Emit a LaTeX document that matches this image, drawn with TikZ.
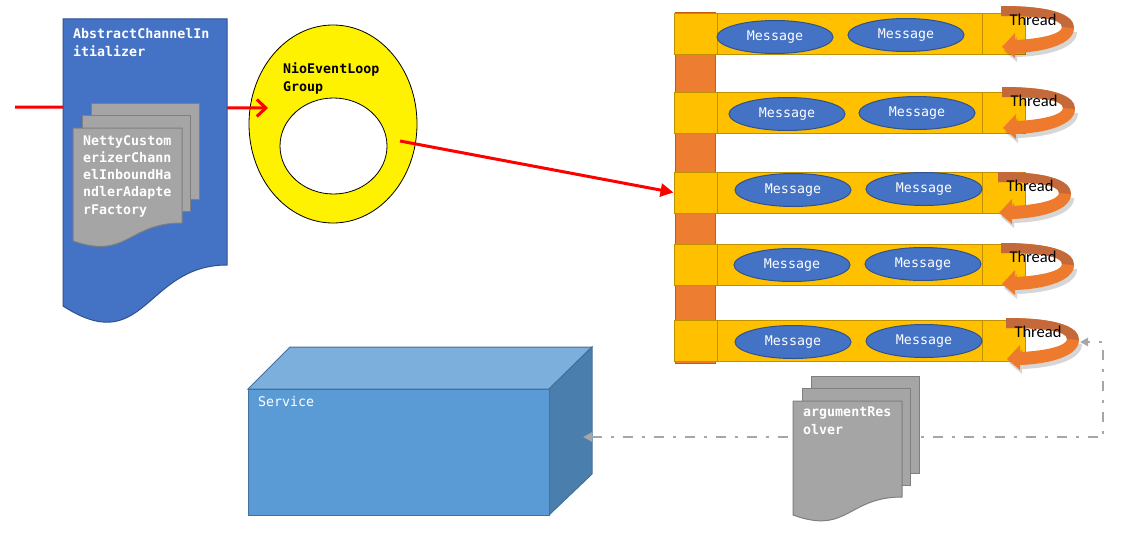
\documentclass[tikz,border=0pt]{standalone}
\usepackage{fontspec}
\newfontfamily\monof{DejaVu Sans Mono}
\newfontfamily\thrf{Carlito}
\usetikzlibrary{arrows.meta,shapes.geometric}
\definecolor{docblue}{HTML}{4472C4}
\definecolor{docblueline}{HTML}{2F528F}
\definecolor{gfill}{HTML}{A5A5A5}
\definecolor{gline}{HTML}{7F7F7F}
\definecolor{qfill}{HTML}{FFC000}
\definecolor{qline}{HTML}{BF9000}
\definecolor{obar}{HTML}{ED7D31}
\definecolor{obarline}{HTML}{C55A11}
\definecolor{thrdark}{HTML}{C4693A}
\definecolor{thrlight}{HTML}{EE7A2E}
\definecolor{svfront}{HTML}{5B9BD5}
\definecolor{svtop}{HTML}{7DAFDD}
\definecolor{svside}{HTML}{4A7EAD}
\definecolor{svline}{HTML}{41719C}
\definecolor{conngray}{HTML}{A6A6A6}
\begin{document}
\begin{tikzpicture}[x=1pt,y=-1pt,
  wtitle/.style={inner sep=0pt, text=white, align=left,
    font=\monof\bfseries\fontsize{13.3}{18}\selectfont},
  btitle/.style={wtitle, text=black},
  wplain/.style={inner sep=0pt, text=white, align=left,
    font=\monof\fontsize{13.3}{18}\selectfont},
  docblueshape/.style={draw=docblueline, fill=docblue, line width=1pt},
  docgray/.style={draw=gline, fill=gfill, line width=1pt},
  qrow/.style={rectangle, draw=qline, fill=qfill, line width=1pt, inner sep=0pt,
    minimum width=351pt, minimum height=41pt},
  qdiv/.style={draw=qline, line width=1pt},
  msg/.style={ellipse, draw=docblueline, fill=docblue, line width=1pt, inner sep=0pt,
    minimum width=116pt, minimum height=33pt, text=white,
    font=\monof\fontsize{13.3}{16}\selectfont},
  redline/.style={draw=red, line width=3pt},
  dashconn/.style={draw=conngray, line width=2pt, dash pattern=on 10pt off 9pt on 3pt off 9pt},
  thrtext/.style={inner sep=0pt, text=black, font=\thrf\fontsize{16.5}{18}\selectfont},
  pics/threadarrow/.style={code={
    \fill[black, opacity=0.16] (3,45) -- (16,31) -- (16,38) .. controls (41,37) and (63,32) .. (63,25)
      -- (76,26) .. controls (76,42) and (47,50) .. (16,51) -- (16,56) -- cycle;
    \fill[thrlight] (1,41) -- (14,27) -- (14,34) .. controls (39,33) and (61,28) .. (61,21)
      .. controls (61,13) and (39,10) .. (0,10) -- (0,0) .. controls (49,0) and (73,8) .. (73,22)
      .. controls (73,38) and (44,46) .. (14,47) -- (14,52) -- cycle;
    \fill[thrdark] (0,10) -- (0,0) .. controls (49,0) and (73,8) .. (73,22) -- (61,21)
      .. controls (61,13) and (39,10) .. (0,10) -- cycle;
    \node[thrtext] (txt) at (32,14) {Thread};
  }}
]
\useasboundingbox (0,0) rectangle (1142,543);
\fill[white] (0,0) rectangle (1142,543);

% ---------- NioEventLoopGroup ring ----------
\node[ellipse, draw=black, fill=yellow, line width=0.8pt, inner sep=0pt,
  minimum width=168pt, minimum height=198pt] (nio) at (333,124) {};
\node[ellipse, draw=black, fill=white, line width=0.8pt, inner sep=0pt,
  minimum width=107pt, minimum height=96pt] (nioin) at (333.5,146) {};
\node[btitle, anchor=north west] (niotxt) at (283,62) {NioEventLoop\\Group};

% ---------- incoming red arrow ----------
\coordinate (inStart) at (15,107);
\coordinate (nioIn) at (268,108);
\draw[redline, -{Straight Barb[length=9pt,width=17pt]}] (inStart) -- (nioIn);

% ---------- AbstractChannelInitializer document ----------
\draw[docblueshape] (63,19) -- (227,19) -- (227,265)
  .. controls (145,265) and (145,359) .. (63,306) -- cycle;
\node[wtitle, anchor=north west] (abstxt) at (73,28) {AbstractChannelIn\\itializer};
\draw[docgray] (91,103) rectangle (199,199);
\draw[docgray] (82,115) rectangle (190,211);
\draw[docgray] (73,128) -- (182,128) -- (182,223)
  .. controls (127.5,223) and (127.5,260) .. (73,241) -- cycle;
\node[wtitle, anchor=north west, font=\monof\bfseries\fontsize{13.3}{17.3}\selectfont]
  (nettytxt) at (83,135) {NettyCustom\\erizerChann\\elInboundHa\\ndlerAdapte\\rFactory};

% ---------- queues ----------
\draw[draw=obarline, fill=obar, line width=1pt] (675,13) rectangle (715,363);
\node[qrow] (row1) at (849.5,34.5) {};
\node[qrow] (row2) at (849.5,113) {};
\node[qrow] (row3) at (849.5,192.5) {};
\node[qrow] (row4) at (849.5,264.5) {};
\node[qrow] (row5) at (849.5,340.5) {};
\foreach \r in {row1,row2,row3,row4,row5}{
  \draw[qdiv] ([xshift=44pt]\r.north west) -- ([xshift=44pt]\r.south west);
  \draw[qdiv] ([xshift=-43pt]\r.north east) -- ([xshift=-43pt]\r.south east);
}
\node[msg] (m1a) at (775,37) {Message};
\node[msg] (m1b) at (906,35) {Message};
\node[msg] (m2a) at (787,114) {Message};
\node[msg] (m2b) at (917,113) {Message};
\node[msg] (m3a) at (793,190) {Message};
\node[msg] (m3b) at (924,189) {Message};
\node[msg] (m4a) at (792,265) {Message};
\node[msg] (m4b) at (923,264) {Message};
\node[msg] (m5a) at (793,342) {Message};
\node[msg] (m5b) at (924,341) {Message};

\pic (th1) at (1001,6) {threadarrow};
\pic (th2) at (1002,87) {threadarrow};
\pic (th3) at (998,172) {threadarrow};
\pic (th4) at (1001,243) {threadarrow};
\pic (th5) at (1006,318) {threadarrow};

% ---------- red arrow into queue ----------
\coordinate (nioOut) at (400,141);
\draw[redline, -{Triangle[length=13pt,width=13pt]}] (nioOut) -- (row3.west);

% ---------- Service box ----------
\draw[draw=svline, fill=svtop, line width=1pt] (248,389) -- (290,347) -- (592,347) -- (549,389) -- cycle;
\draw[draw=svline, fill=svside, line width=1pt] (549,389) -- (592,347) -- (592,474) -- (549,515) -- cycle;
\draw[draw=svline, fill=svfront, line width=1pt] (248,389) rectangle (549,515);
\node[wplain, anchor=north west] (svctxt) at (258,396) {Service};

% ---------- dashed connector ----------
\coordinate (svcIn) at (583,437);
\coordinate (thrIn) at (1080,342);
\draw[dashconn, {Triangle[length=9pt,width=9pt]}-{Triangle[length=8pt,width=8pt]}]
  (svcIn) -- (1103,437) -- (1103,342) -- (thrIn);

% ---------- argumentResolver document ----------
\draw[docgray] (811,376) rectangle (919,473);
\draw[docgray] (802,388) rectangle (910,485);
\draw[docgray] (793,401) -- (902,401) -- (902,497)
  .. controls (847.5,497) and (847.5,535) .. (793,515) -- cycle;
\node[wtitle, anchor=north west] (argtxt) at (803,407) {argumentRes\\olver};
\end{tikzpicture}
\end{document}
